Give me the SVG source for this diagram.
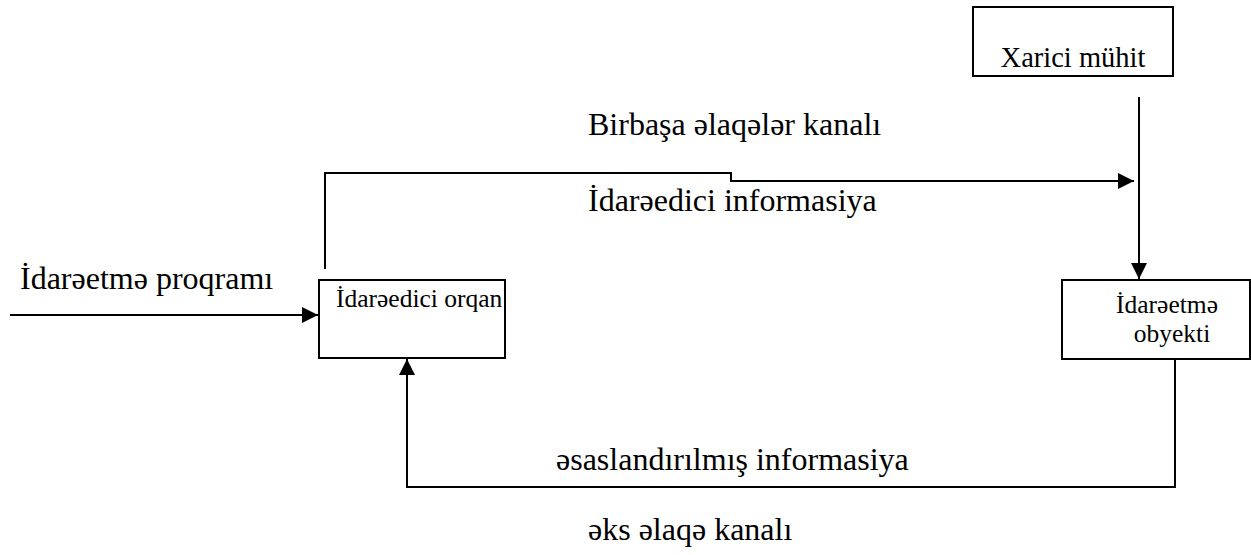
<svg xmlns="http://www.w3.org/2000/svg" width="1251" height="555" viewBox="0 0 1251 555">
<style>
.box{fill:#fff;stroke:#000;stroke-width:2}
.t{font-family:"Liberation Serif","DejaVu Serif","Times New Roman",serif;fill:#000}
.big{font-size:32px}
.med{font-size:25.5px}
.conn{fill:none;stroke:#000;stroke-width:2}
</style>
<defs>
<marker id="ah" markerUnits="userSpaceOnUse" markerWidth="17" markerHeight="16" refX="16" refY="8" orient="auto">
<path d="M0,0 L16,8 L0,16 Z" fill="#000"/>
</marker>
</defs>
<rect width="1251" height="555" fill="#fff"/>
<g id="connectors">
<path class="conn" d="M10,315 L318,315" marker-end="url(#ah)"/>
<path class="conn" d="M325,269 L325,173 L731,173 L731,181 L1134,181" marker-end="url(#ah)"/>
<path class="conn" d="M1139,97 L1139,279" marker-end="url(#ah)"/>
<path class="conn" d="M1175,359 L1175,487 L407,487 L407,359" marker-end="url(#ah)"/>
</g>
<g id="node-idareedici-orqan">
<rect class="box" x="319" y="280" width="186" height="78"/>
<text class="t med" x="336" y="307">İdarəedici orqan</text>
</g>
<g id="node-xarici-muhit">
<rect class="box" x="973" y="7" width="200" height="69"/>
<text class="t" font-size="28.5" x="1073" y="67" text-anchor="middle">Xarici mühit</text>
</g>
<g id="node-idareetme-obyekti">
<rect class="box" x="1062" y="280" width="188" height="79"/>
<text class="t med" x="1167" y="313" text-anchor="middle">İdarəetmə</text>
<text class="t med" x="1172" y="342" text-anchor="middle">obyekti</text>
</g>
<g id="labels">
<text class="t big" x="20" y="289">İdarəetmə proqramı</text>
<text class="t big" x="588" y="135">Birbaşa əlaqələr kanalı</text>
<text class="t big" x="588" y="211">İdarəedici informasiya</text>
<text class="t big" x="556" y="470">əsaslandırılmış informasiya</text>
<text class="t big" x="588" y="540">əks əlaqə kanalı</text>
</g>
</svg>
